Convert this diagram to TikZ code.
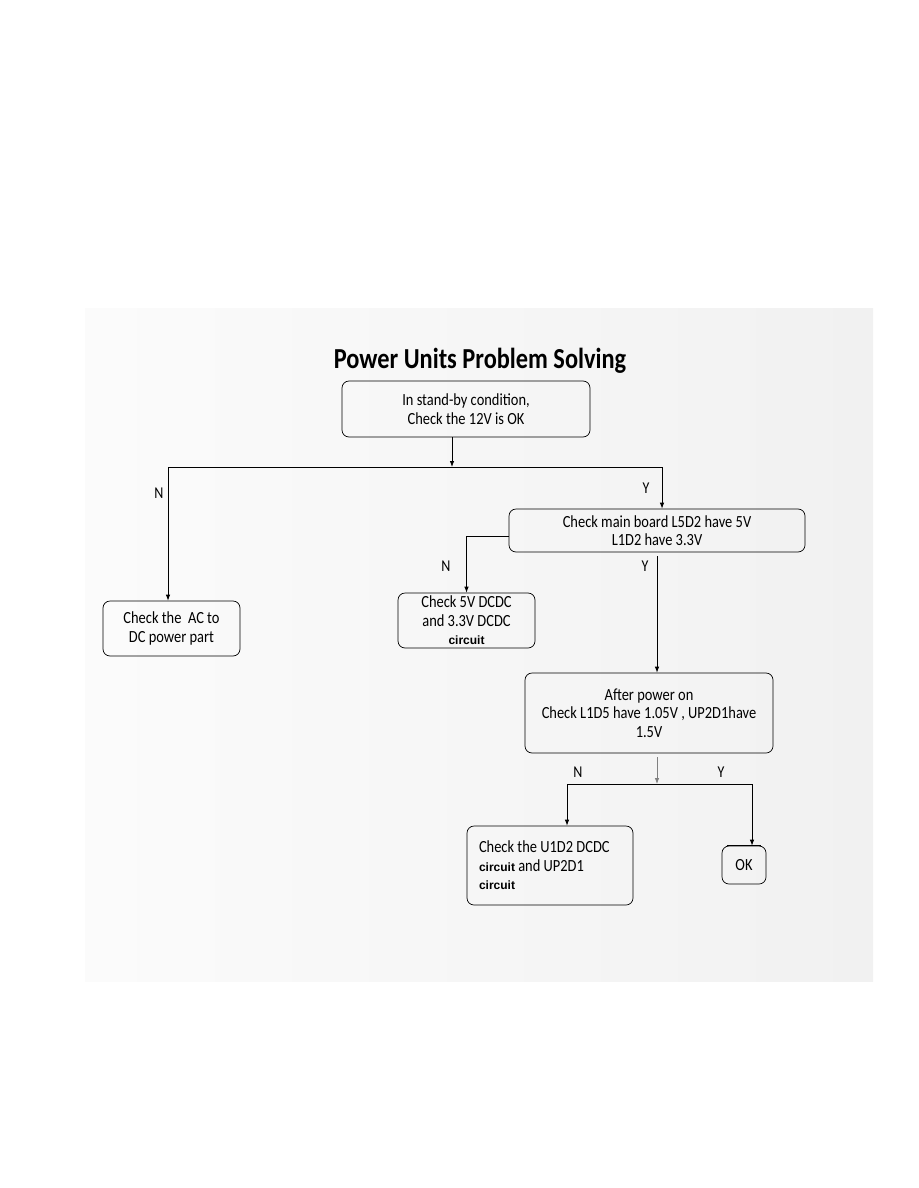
\documentclass[tikz,border=0pt]{standalone}
\usepackage{fontspec}
\setmainfont[FakeStretch=0.85]{Carlito}
\newfontfamily\arialf{Liberation Sans}
\newfontfamily\titlef[FakeStretch=0.84]{Carlito}
\usetikzlibrary{arrows.meta}
\newcommand{\circb}{{\arialf\bfseries\fontsize{12}{18}\selectfont circuit}}
\begin{document}
\begin{tikzpicture}[x=1pt,y=-1pt,
  box/.style={draw, rounded corners=7pt, line width=0.7pt, align=center,
    font=\fontsize{17}{18.5}\selectfont, inner sep=0pt},
  conn/.style={line width=0.8pt},
  arr/.style={conn,-{Latex[length=6pt,width=4.5pt]}},
  lbl/.style={font=\fontsize{16.5}{17}\selectfont, inner sep=0pt}]
\useasboundingbox (0,0) rectangle (918,1188);
\fill[white] (0,0) rectangle (918,1188);
\shade[left color=gray!3, right color=gray!11] (85,308) rectangle (873,981);

\node[font=\titlef\bfseries\fontsize{29}{32}\selectfont, inner sep=0pt] (title) at (480,361) {Power Units Problem Solving};

\node[box, minimum width=248, minimum height=56] (b1) at (466,409) {In stand-by condition,\\ Check the 12V is OK};
\node[box, minimum width=137, minimum height=55] (bac) at (171.5,628.5) {Check the \ AC to\\DC power part};
\node[box, minimum width=296, minimum height=43] (b2) at (657,530.5) {Check main board L5D2 have 5V\\L1D2 have 3.3V};
\node[box, minimum width=137, minimum height=55] (b3) at (466.5,620.5) {Check 5V DCDC\\and 3.3V DCDC\\\circb};
\node[box, minimum width=248, minimum height=80] (b4) at (649,713) {After power on\\Check L1D5 have 1.05V , UP2D1have\\1.5V};
\node[box, minimum width=166, minimum height=79, text width=142, align=flush left] (b5) at (550,865.5) {Check the U1D2 DCDC\\\circb{} and UP2D1\\\circb};
\node[box, minimum width=44, minimum height=38] (b6) at (744,865) {OK};
\draw[line width=1.6pt] ([xshift=5pt]b6.north west) -- ([xshift=-5pt]b6.north east);

\coordinate (j1) at (452,467);
\coordinate (jL) at (168,467);
\coordinate (jR) at (662,467);
\coordinate (j2top) at (657,757);
\coordinate (j2) at (657,784);
\coordinate (jN) at (567,784);
\coordinate (jY) at (752,784);

\draw[arr] (b1.south -| j1) -- (j1);
\draw[conn] (jL) -- (jR);
\draw[arr] (jL) -- (jL |- bac.north);
\draw[arr] (jR) -- (jR |- b2.north);
\draw[arr] ([yshift=-5.5pt]b2.west) -| (b3.north);
\draw[arr] ([yshift=-4pt]b2.south) -- (b4.north -| b2.south);
\draw[arr, draw=gray] (j2top) -- (j2);
\draw[conn] (jN) -- (jY);
\draw[arr] (jN) -- (jN |- b5.north);
\draw[arr] (jY) -- (jY |- b6.north);

\node[lbl] (n1) at (159,493) {N};
\node[lbl] (y1) at (646,488) {Y};
\node[lbl] (n2) at (446,566) {N};
\node[lbl] (y2) at (645,566) {Y};
\node[lbl] (n3) at (578,772) {N};
\node[lbl] (y3) at (721,772) {Y};
\end{tikzpicture}
\end{document}
